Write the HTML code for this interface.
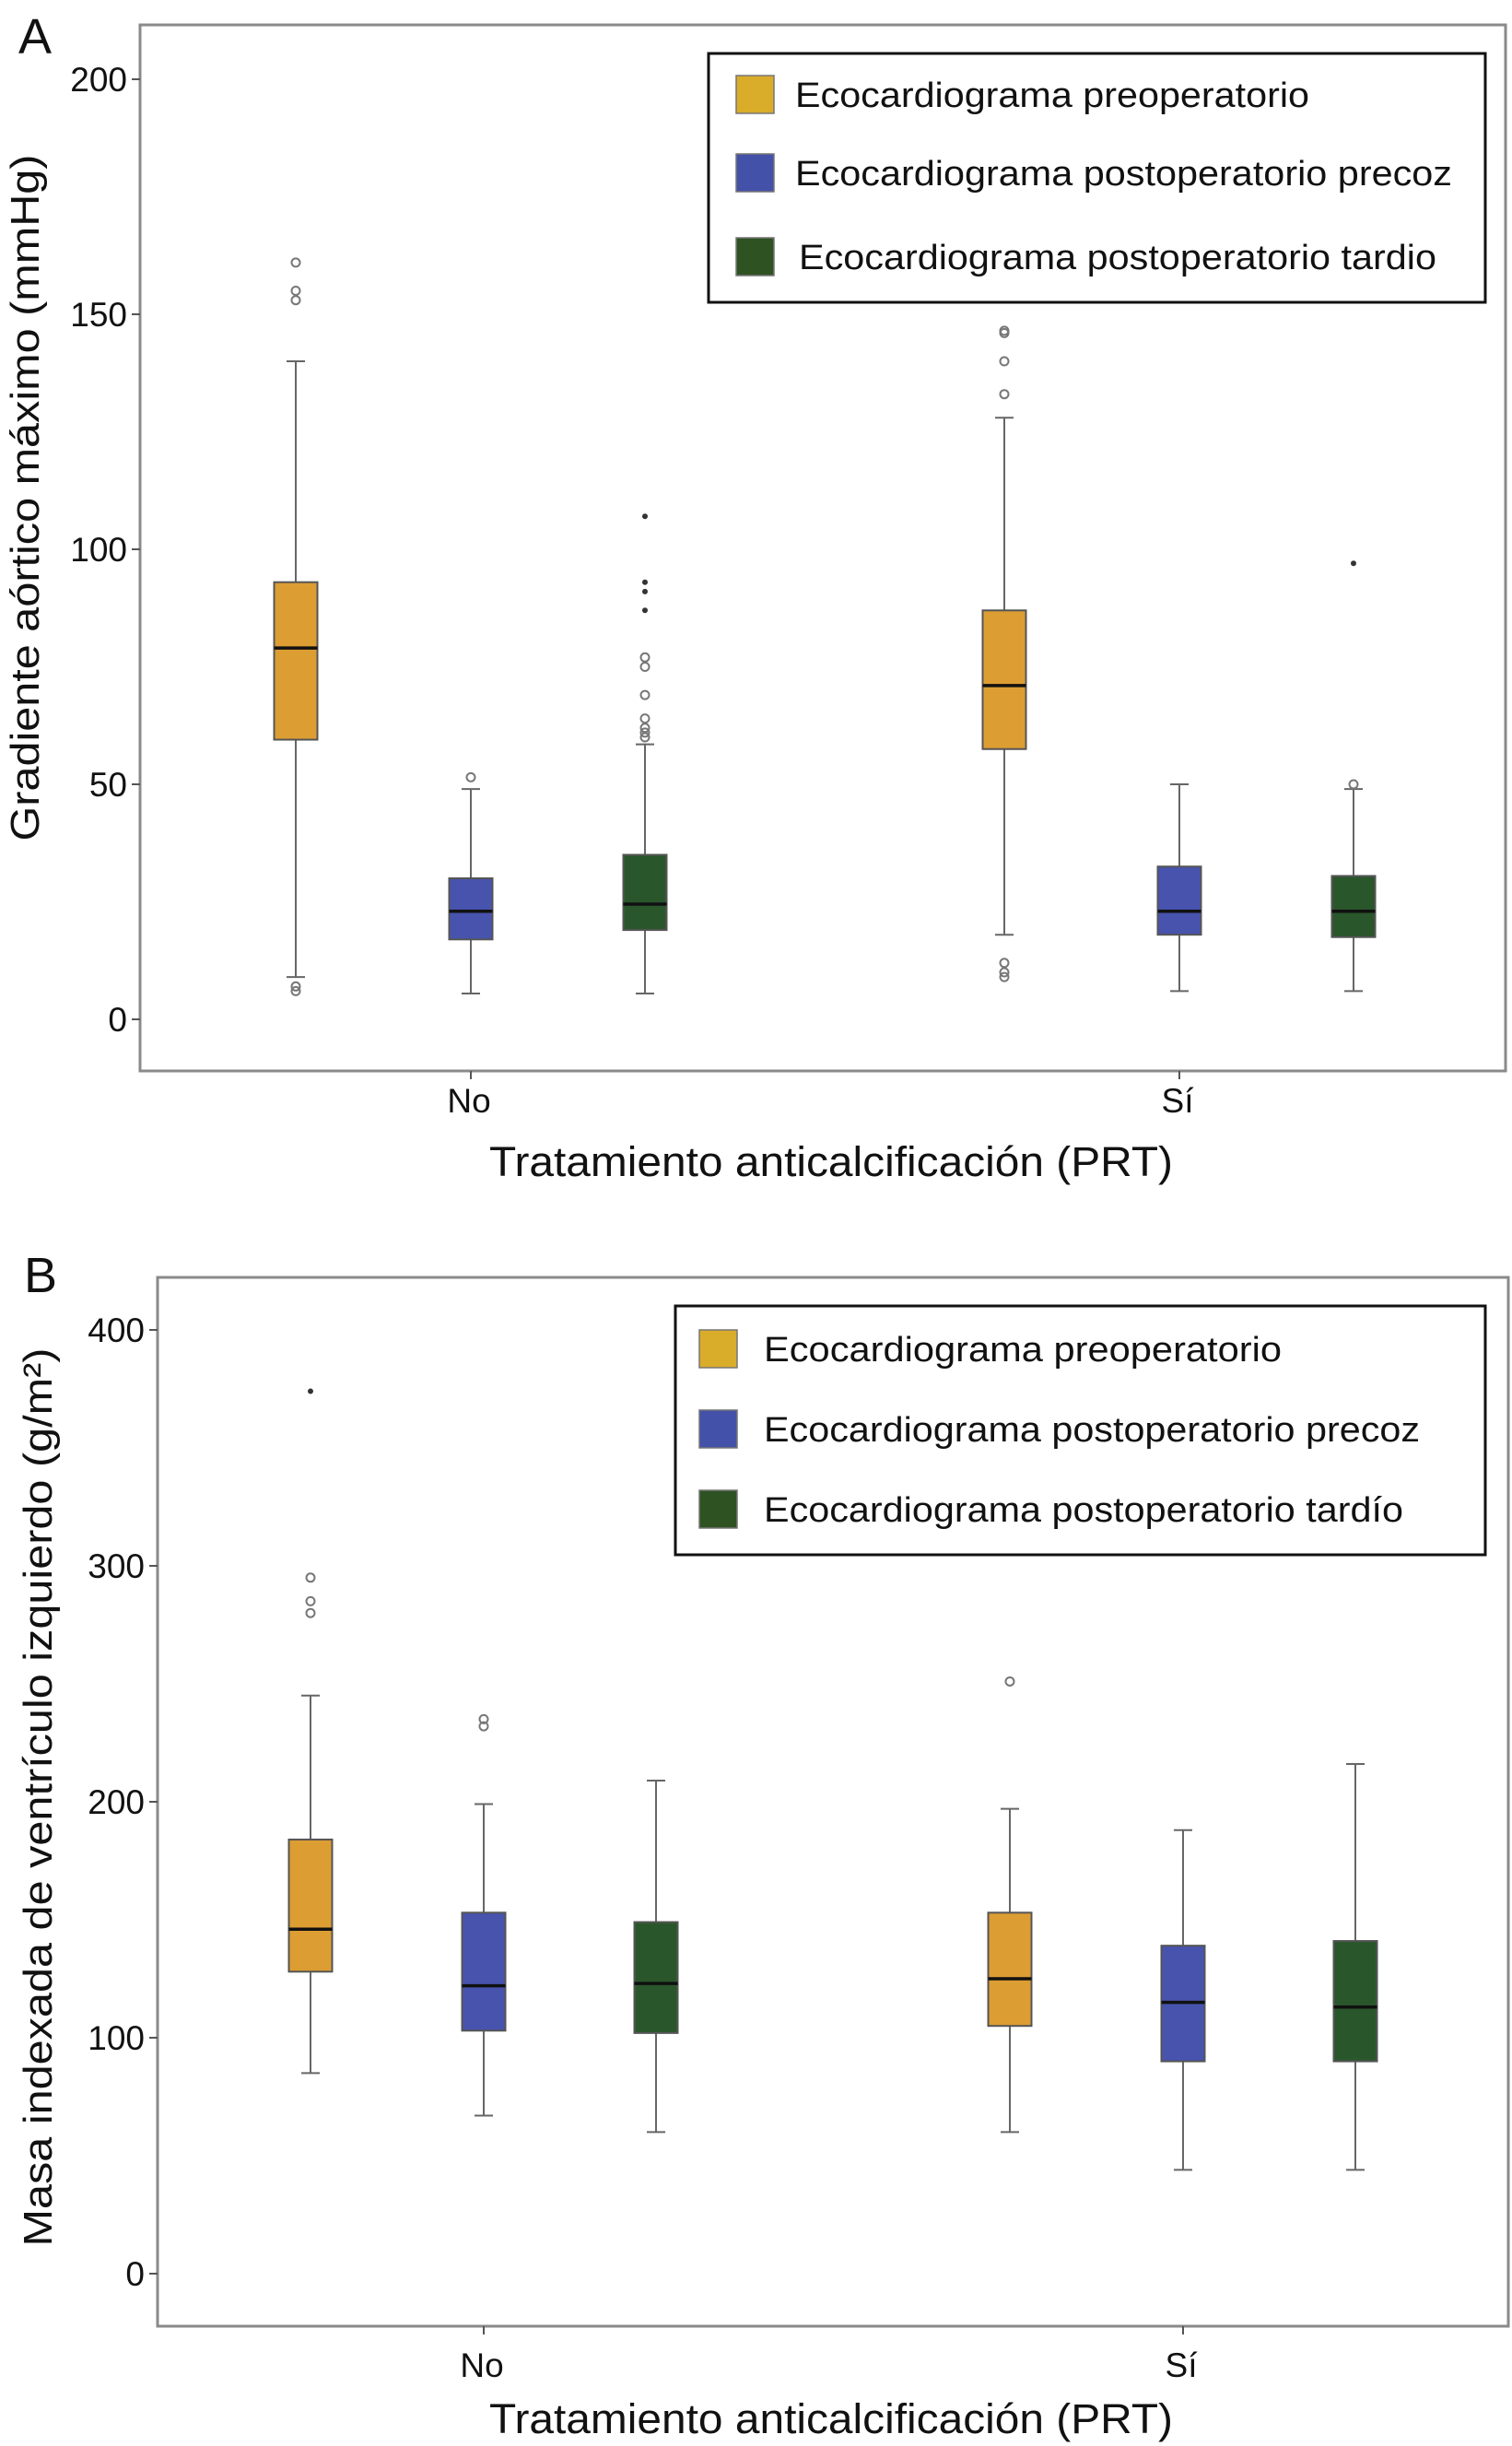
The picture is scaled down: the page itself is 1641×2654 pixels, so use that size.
<!DOCTYPE html>
<html><head><meta charset="utf-8"><style>
html,body{margin:0;padding:0;background:#fff}
svg{display:block}
text{font-family:"Liberation Sans",sans-serif;fill:#111}
</style></head><body>
<svg id="chart" width="1641" height="2654" viewBox="0 0 1641 2654" xmlns="http://www.w3.org/2000/svg">
<text x="20" y="58" font-size="54">A</text>
<text x="26" y="1402" font-size="54">B</text>
</svg>
<script>
const NS="http://www.w3.org/2000/svg";
const svg=document.getElementById('chart');
const groups=["No","Sí"];
const seriesNamesA=["Ecocardiograma preoperatorio","Ecocardiograma postoperatorio precoz","Ecocardiograma postoperatorio tardio"];
const seriesNamesB=["Ecocardiograma preoperatorio","Ecocardiograma postoperatorio precoz","Ecocardiograma postoperatorio tardío"];
const ticksA=[0,50,100,150,200];
const ticksB=[0,100,200,300,400];
// A: [whiskerLow, Q1, median, Q3, whiskerHigh] per group (No, Sí)
const aPre=[[9,59.5,79,93,140],[18,57.5,71,87,128]];
const aEarly=[[5.5,17,23,30,49],[6,18,23,32.5,50]];
const aLate=[[5.5,19,24.5,35,58.5],[6,17.5,23,30.5,49]];
const aPreOut=[[161,155,153,7,6],[146.5,146,140,133,12,10,9]];
const aEarlyOut=[[51.5],[]];
const aLateOut=[[77,75,69,64,62,61,60],[50]];
const aPreStar=[[],[]];
const aEarlyStar=[[],[]];
const aLateStar=[[107,93,91,87],[97]];
// B
const bPre=[[85,128,146,184,245],[60,105,125,153,197]];
const bEarly=[[67,103,122,153,199],[44,90,115,139,188]];
const bLate=[[60,102,123,149,209],[44,90,113,141,216]];
const bPreOut=[[295,285,280],[251]];
const bEarlyOut=[[235,232],[]];
const bLateOut=[[],[]];
const bPreStar=[[374],[]];
const bEarlyStar=[[],[]];
const bLateStar=[[],[]];

const fills=["#dc9d33","#4753ad","#2a562c"];
const swatch=["#d9ac2a","#4451a8","#2e5222"];
const seriesKeys=["pre","early","late"];

function el(tag,attrs,parent){const e=document.createElementNS(NS,tag);for(const k in attrs)e.setAttribute(k,attrs[k]);(parent||svg).appendChild(e);return e;}

function panel(cfg){
  const g=el('g',{});
  
  
  const y=v=>cfg.y0+(v-cfg.vmin)*(cfg.y1-cfg.y0)/(cfg.vmax-cfg.vmin);
  const fr=el('rect',{x:cfg.left,y:cfg.top,width:cfg.right-cfg.left,height:cfg.bottom-cfg.top,fill:'none',stroke:'#8a8a8a','stroke-width':3},g);
  
  
  cfg.ticks.forEach(t=>{
    const ty=y(t);
    const l=el('line',{x1:cfg.left-9,x2:cfg.left,y1:ty,y2:ty,stroke:'#555','stroke-width':2},g);
    
    
    const tx=el('text',{x:cfg.left-14,y:ty+13,'font-size':37,'text-anchor':'end'},g);
    tx.textContent=t;
    
    
  });
  groups.forEach((gname,gi)=>{
    const gx=cfg.gx[gi];
    const l=el('line',{x1:gx,x2:gx,y1:cfg.bottom,y2:cfg.bottom+9,stroke:'#555','stroke-width':2},g);
    
    
    const tx=el('text',{x:gx-2,y:cfg.xlabY,'font-size':37,'text-anchor':'middle'},g);
    tx.textContent=gname;
    
    
  });
  cfg.series.forEach((s,si)=>{
    groups.forEach((gname,gi)=>{
      const cx=cfg.gx[gi]+cfg.offsets[si];
      const d=s.box[gi];const w=47;
      const wl=el('line',{x1:cx,x2:cx,y1:y(d[0]),y2:y(d[4]),stroke:'#666','stroke-width':2},g);
      
      
      [d[0],d[4]].forEach(v=>{
        const c=el('line',{x1:cx-10,x2:cx+10,y1:y(v),y2:y(v),stroke:'#666','stroke-width':2},g);
        
        
      });
      const r=el('rect',{x:cx-w/2,y:y(d[3]),width:w,height:y(d[1])-y(d[3]),fill:fills[si],stroke:'#555','stroke-width':2},g);
      
      
      const m=el('line',{x1:cx-w/2,x2:cx+w/2,y1:y(d[2]),y2:y(d[2]),stroke:'#111','stroke-width':3.5},g);
      
      
      s.out[gi].forEach(v=>{
        const o=el('circle',{cx:cx,cy:y(v),r:4.5,fill:'none',stroke:'#777','stroke-width':2},g);
        
        
      });
      s.star[gi].forEach(v=>{
        const o=el('circle',{cx:cx,cy:y(v),r:3,fill:'#333'},g);
        
        
      });
    });
  });
  const L=cfg.legend;
  const lg=el('g',{},g);
  
  
  const lb=el('rect',{x:L.x,y:L.y,width:L.w,height:L.h,fill:'#fff',stroke:'#111','stroke-width':3},lg);
  
  
  cfg.names.forEach((n,i)=>{
    const ry=L.rows[i];
    const sw=el('rect',{x:L.sx,y:ry-21,width:41,height:41,fill:swatch[i],stroke:'#777','stroke-width':1.5},lg);
    
    
    const t=el('text',{x:L.tx+(i==2?L.t3dx:0),y:ry+13,'font-size':38,textLength:L.tl[i],lengthAdjust:'spacingAndGlyphs'},lg);
    t.textContent=n;
    
    
  });
  const yt=el('text',{x:0,y:0,'font-size':44,'text-anchor':'middle',transform:`translate(${cfg.ytitleX},${cfg.ytitleY}) rotate(-90)`,textLength:cfg.ytitleLen,lengthAdjust:'spacingAndGlyphs'},g);
  yt.textContent=cfg.ytitle;
  
  
  const xt=el('text',{x:902,y:cfg.xtitleY,'font-size':45,'text-anchor':'middle',textLength:742,lengthAdjust:'spacingAndGlyphs'},g);
  xt.textContent="Tratamiento anticalcificación (PRT)";
  
  
}

panel({name:'panel-a',left:152,right:1634,top:27,bottom:1162,vmin:0,vmax:200,y0:1106,y1:86,
  ticks:ticksA,gx:[511,1280],offsets:[-190,0,189],xlabY:1207,xtitleY:1276,
  series:[{box:aPre,out:aPreOut,star:aPreStar},{box:aEarly,out:aEarlyOut,star:aEarlyStar},{box:aLate,out:aLateOut,star:aLateStar}],
  names:seriesNamesA,
  legend:{x:769,y:58,w:843,h:270,sx:799,tx:863,t3dx:4,rows:[103,188,279],tl:[558,713,692]},
  ytitle:"Gradiente aórtico máximo (mmHg)",ytitleX:42,ytitleY:540,ytitleLen:745});
panel({name:'panel-b',left:171,right:1637,top:1386,bottom:2524,vmin:0,vmax:400,y0:2467,y1:1443,
  ticks:ticksB,gx:[525,1284],offsets:[-188,0,187],xlabY:2579,xtitleY:2640,
  series:[{box:bPre,out:bPreOut,star:bPreStar},{box:bEarly,out:bEarlyOut,star:bEarlyStar},{box:bLate,out:bLateOut,star:bLateStar}],
  names:seriesNamesB,
  legend:{x:733,y:1417,w:879,h:270,sx:759,tx:829,t3dx:0,rows:[1464,1551,1638],tl:[562,712,694]},
  ytitle:"Masa indexada de ventrículo izquierdo (g/m²)",ytitleX:56,ytitleY:1950,ytitleLen:975});
</script>
</body></html>
